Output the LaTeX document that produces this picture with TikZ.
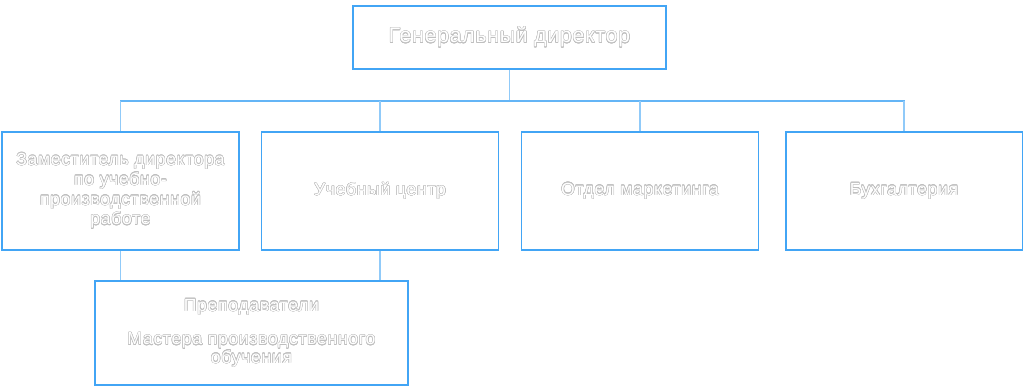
\documentclass[tikz,border=0pt]{standalone}
\usepackage{fontspec}
\setmainfont[LetterSpace=4]{Liberation Sans}
\usepackage{contour}
\contourlength{0.25pt}
\definecolor{boxblue}{HTML}{42A5F5}
\definecolor{lineblue}{HTML}{90CAF9}
\definecolor{busblue}{HTML}{64B5F6}
\newcommand{\ctext}[1]{\contour{black!25}{#1}}
\begin{document}
\begin{tikzpicture}[x=0.02cm, y=-0.02cm]
  \tikzstyle{b} = [draw=boxblue, line width=1.1pt, fill=white, text=white, align=center, font=\fontsize{10}{11.3}\selectfont, inner sep=0pt]
  \tikzstyle{c} = [draw=lineblue, line width=0.6pt]
  \useasboundingbox (0,0) rectangle (1024,392);
  % Leitung
  \node[b, minimum width=6.26cm, minimum height=1.26cm, font=\fontsize{12}{14}\selectfont] (gd) at (509.5,37.5) {\ctext{Генеральный директор}};
  \coordinate (busl) at (120,101);
  \coordinate (busr) at (905,101);
  % Abteilungen
  \node[b, minimum width=4.74cm, minimum height=2.36cm] (zam) at (120.5,191) {\ctext{Заместитель директора}\\\ctext{по учебно-}\\\ctext{производственной}\\\ctext{работе}};
  \node[b, minimum width=4.74cm, minimum height=2.36cm] (uc) at (380,191) {\ctext{Учебный центр}};
  \node[b, minimum width=4.74cm, minimum height=2.36cm] (mk) at (640,191) {\ctext{Отдел маркетинга}};
  \node[b, minimum width=4.74cm, minimum height=2.36cm] (bu) at (904,191) {\ctext{Бухгалтерия}};
  \node[b, minimum width=6.26cm, minimum height=2.08cm] (pr) at (251.5,333) {\ctext{Преподаватели}\\[8pt]\ctext{Мастера производственного}\\[-1pt]\ctext{обучения}};

  % Verbindungen
  \draw[c] (gd.south) -- (gd.south |- busl);
  \draw[draw=busblue, line width=1.1pt] (busl) -- (busr);
  \draw[c] (zam.north) -- (zam.north |- busl);
  \draw[c] (uc.north) -- (uc.north |- busl);
  \draw[c] (mk.north) -- (mk.north |- busl);
  \draw[c] (bu.north) -- (bu.north |- busl);
  \draw[c] (zam.south) -- (zam.south |- pr.north);
  \draw[c] (uc.south) -- (uc.south |- pr.north);
\end{tikzpicture}
\end{document}
